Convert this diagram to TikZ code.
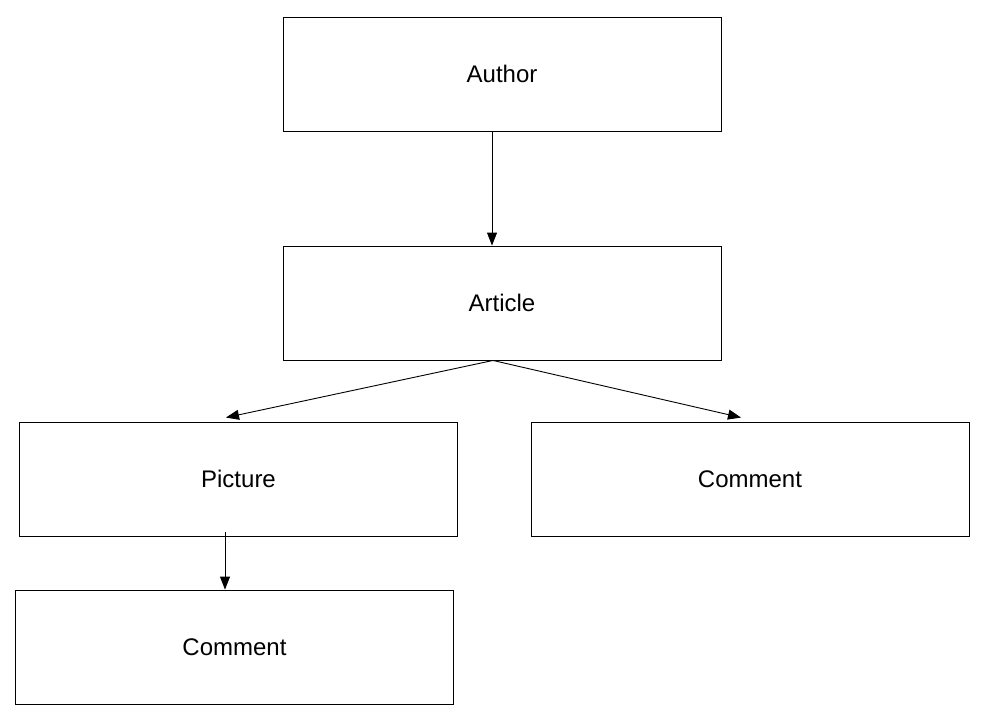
\documentclass[tikz,border=0pt]{standalone}
\usepackage{fontspec}
\setmainfont{Liberation Sans}
\usetikzlibrary{arrows.meta}
\tikzset{
  box/.style={draw=black, line width=0.9pt, minimum width=438pt, minimum height=114pt, inner sep=0pt, font=\fontsize{24}{28}\selectfont},
  conn/.style={draw=black, line width=0.9pt, -{Triangle[length=13pt,width=10pt]}}
}
\begin{document}
\begin{tikzpicture}[x=1pt,y=-1pt]
\useasboundingbox (0,0) rectangle (1001,716);
\node[box] (author) at (502,74) {Author};
\node[box] (article) at (502,303) {Article};
\node[box] (picture) at (238.5,479) {Picture};
\node[box] (comment1) at (750,479) {Comment};
\node[box] (comment2) at (234.5,647) {Comment};
\draw[conn] ([xshift=-10pt]author.south) -- ([xshift=-10pt]article.north);
\draw[conn] ([xshift=-9pt]article.south) -- ([xshift=-12.5pt,yshift=4pt]picture.north);
\draw[conn] ([xshift=-9pt]article.south) -- ([xshift=-9pt,yshift=4pt]comment1.north);
\draw[conn] ([xshift=-13.5pt,yshift=4pt]picture.south) -- ([xshift=-9.5pt]comment2.north);
\end{tikzpicture}
\end{document}
